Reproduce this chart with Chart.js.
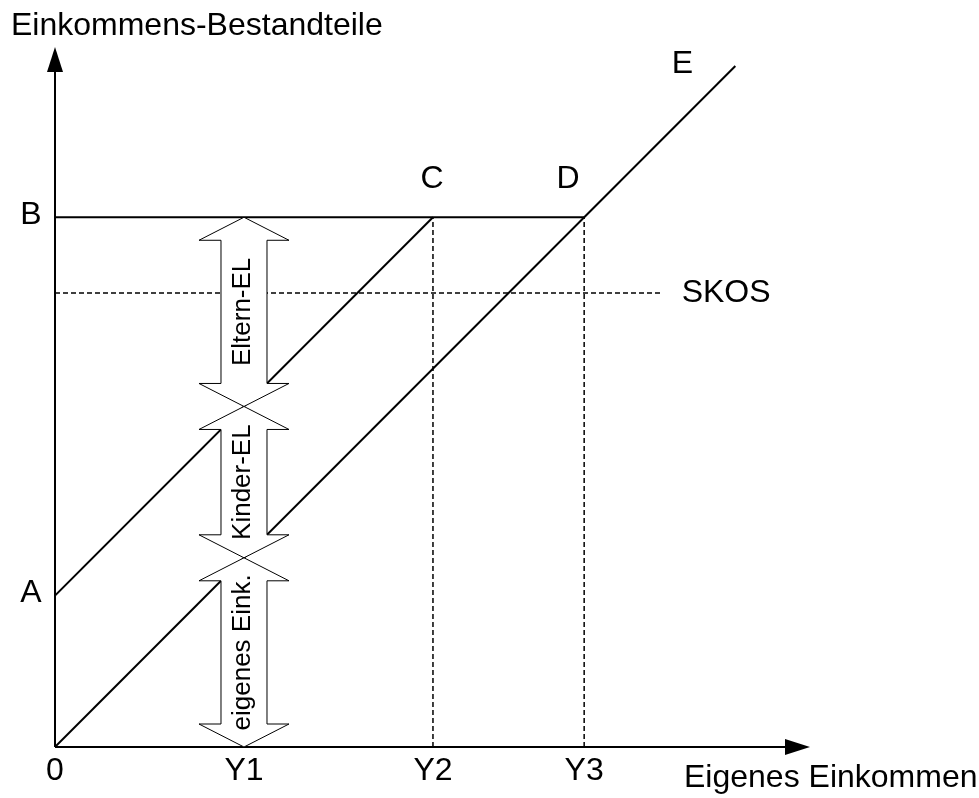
<!DOCTYPE html>
<html>
<head>
<meta charset="utf-8">
<script src="https://cdn.jsdelivr.net/npm/chart.js@4/dist/chart.umd.min.js"></script>
<style>
  body { margin: 0; background: #fff; }
  canvas { display: block; }
</style>
</head>
<body>
<canvas id="chart" width="979" height="798"></canvas>
<script>
// axis ticks (data units: Y1 = 1)
var xTicks = [0, 1, 2, 2.8];
var xTickLabels = ['0', 'Y1', 'Y2', 'Y3'];
var yTicks = [0.8, 2.8];
var yTickLabels = ['A', 'B'];

// lines
var lineOwn = [{x: 0, y: 0}, {x: 3.6, y: 3.6}];       // 0 -> D -> E
var lineA = [{x: 0, y: 0.8}, {x: 2, y: 2.8}];          // A -> C
var lineB = [{x: 0, y: 2.8}, {x: 2.8, y: 2.8}];        // B -> D
var lineSkos = [{x: 0, y: 2.4}, {x: 3.21, y: 2.4}];
var dropY2 = [{x: 2, y: 0}, {x: 2, y: 2.8}];
var dropY3 = [{x: 2.8, y: 0}, {x: 2.8, y: 2.8}];

// named points
var pointNames = ['C', 'D', 'E'];
var pointX = [2, 2.8, 3.6];
var pointY = [2.8, 2.8, 3.6];

// stacked double arrows at Y1
var bandX = 1;
var bandEdges = [0, 1, 1.8, 2.8];
var bandLabels = ['eigenes Eink.', 'Kinder-EL', 'Eltern-EL'];

var FONT = '"Liberation Sans", Arial, sans-serif';

function seg(data, dash, width) {
    return {
        data: data,
        showLine: true,
        borderColor: '#000',
        borderWidth: width || 2,
        borderDash: dash || [],
        pointRadius: 0,
        fill: false,
        tension: 0
    };
}

var drawing = {
    id: 'drawing',
    beforeDatasetsDraw: function(chart) {
        var ctx = chart.ctx, a = chart.chartArea;
        var xs = chart.scales.x, ys = chart.scales.y;
        var ox = xs.getPixelForValue(0), oy = ys.getPixelForValue(0);
        ctx.save();
        ctx.strokeStyle = '#000';
        ctx.fillStyle = '#000';
        ctx.lineWidth = 2;
        // axes
        ctx.beginPath();
        ctx.moveTo(ox, oy); ctx.lineTo(a.right - 20, oy);
        ctx.moveTo(ox, oy); ctx.lineTo(ox, a.top + 20);
        ctx.stroke();
        ctx.beginPath();
        ctx.moveTo(a.right, oy); ctx.lineTo(a.right - 25, oy - 8); ctx.lineTo(a.right - 25, oy + 8);
        ctx.closePath(); ctx.fill();
        ctx.beginPath();
        ctx.moveTo(ox, a.top); ctx.lineTo(ox - 8, a.top + 25); ctx.lineTo(ox + 8, a.top + 25);
        ctx.closePath(); ctx.fill();
        ctx.restore();
    },
    afterDatasetsDraw: function(chart) {
        var ctx = chart.ctx, a = chart.chartArea;
        var xs = chart.scales.x, ys = chart.scales.y;
        ctx.save();
        // double arrows
        var cx = xs.getPixelForValue(bandX);
        var hw = 45, sw = 23, hl = 23;
        ctx.lineWidth = 1;
        ctx.strokeStyle = '#000';
        for (var i = 0; i < bandLabels.length; i++) {
            var y0 = ys.getPixelForValue(bandEdges[i]);
            var y1 = ys.getPixelForValue(bandEdges[i + 1]);
            ctx.beginPath();
            ctx.moveTo(cx, y1);
            ctx.lineTo(cx + hw, y1 + hl);
            ctx.lineTo(cx + sw, y1 + hl);
            ctx.lineTo(cx + sw, y0 - hl);
            ctx.lineTo(cx + hw, y0 - hl);
            ctx.lineTo(cx, y0);
            ctx.lineTo(cx - hw, y0 - hl);
            ctx.lineTo(cx - sw, y0 - hl);
            ctx.lineTo(cx - sw, y1 + hl);
            ctx.lineTo(cx - hw, y1 + hl);
            ctx.closePath();
            ctx.fillStyle = '#fff';
            ctx.fill();
            ctx.stroke();
            ctx.save();
            ctx.translate(cx - 1, (y0 + y1) / 2);
            ctx.rotate(-Math.PI / 2);
            ctx.fillStyle = '#000';
            ctx.font = '26px ' + FONT;
            ctx.textAlign = 'center';
            ctx.textBaseline = 'middle';
            ctx.fillText(bandLabels[i], 0, 0);
            ctx.restore();
        }

        ctx.fillStyle = '#000';
        ctx.font = '32px ' + FONT;
        ctx.textAlign = 'center';
        ctx.textBaseline = 'middle';
        var oy = ys.getPixelForValue(0), ox = xs.getPixelForValue(0);
        xTicks.forEach(function(t, k) {
            ctx.fillText(xTickLabels[k], xs.getPixelForValue(t), oy + 24);
        });
        yTicks.forEach(function(t, k) {
            ctx.fillText(yTickLabels[k], ox - 24, ys.getPixelForValue(t) - 2);
        });
        var offs = [[-1, -38], [-16, -38], [-53, -2]];
        pointNames.forEach(function(n, k) {
            ctx.fillText(n, xs.getPixelForValue(pointX[k]) + offs[k][0], ys.getPixelForValue(pointY[k]) + offs[k][1]);
        });
        ctx.textAlign = 'left';
        ctx.fillText('SKOS', xs.getPixelForValue(lineSkos[1].x) + 20, ys.getPixelForValue(lineSkos[1].y));
        ctx.fillText('Eigenes Einkommen', 684, oy + 31);
        ctx.textBaseline = 'alphabetic';
        ctx.fillText('Einkommens-Bestandteile', 11, 35);
        ctx.restore();
    }
};

var ctx = document.getElementById('chart').getContext('2d');
window.chart = new Chart(ctx, {
    type: 'scatter',
    data: {
        datasets: [
            seg(lineOwn),
            seg(lineA),
            seg(lineB),
            seg(lineSkos, [5, 3], 1.5),
            seg(dropY2, [5, 3], 1.5),
            seg(dropY3, [5, 3], 1.5)
        ]
    },
    options: {
        responsive: false,
        animation: false,
        layout: {padding: {left: 55, right: 169, top: 47, bottom: 51}},
        plugins: {legend: {display: false}, tooltip: {enabled: false}},
        scales: {
            x: {type: 'linear', min: 0, max: 3.995, display: false},
            y: {type: 'linear', min: 0, max: 3.7, display: false}
        }
    },
    plugins: [drawing]
});
</script>
</body>
</html>
